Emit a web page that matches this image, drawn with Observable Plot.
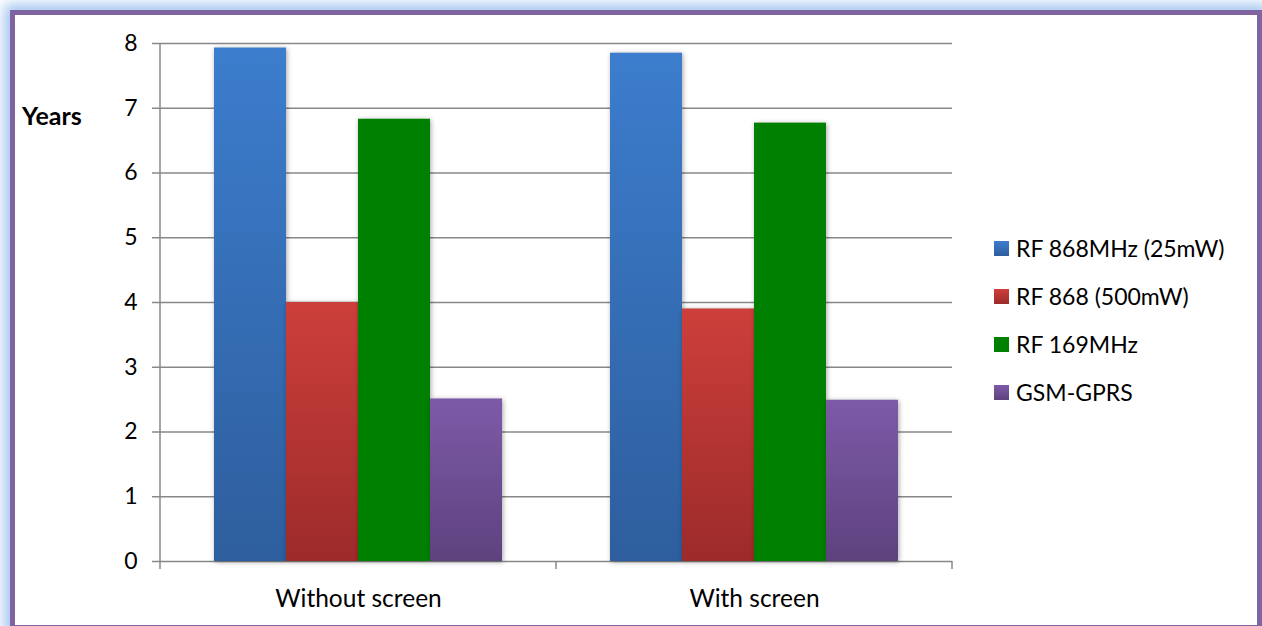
<!DOCTYPE html>
<html>
<head>
<meta charset="utf-8">
<script src="https://cdn.jsdelivr.net/npm/d3@7"></script>
<script src="https://cdn.jsdelivr.net/npm/@observablehq/plot@0.6"></script>
<style>
  html, body { margin: 0; padding: 0; width: 1262px; height: 626px; overflow: hidden; background: #ffffff; }
  #frame {
    position: absolute; left: 10px; top: 10px; width: 1242px; height: 610px;
    border: 5px solid #8064A2; background: #ffffff;
    box-shadow: 0 0 12px 6px #a6c7f0;
  }
  #chart { position: absolute; left: 0; top: 0; }
  #ylabel {
    position: absolute; left: 7px; top: 85px; line-height: 30px;
    font-family: Lato, sans-serif; font-weight: bold; font-size: 25px; color: #000;
  }
  #legend { position: absolute; left: 979px; top: 209px; font-family: Lato, sans-serif; font-size: 23px; color: #000; }
  .item { height: 48px; display: flex; align-items: center; }
  .sw { width: 15px; height: 15px; margin-right: 7px; }
  g[aria-label="bar"] rect { filter: drop-shadow(1px 1px 2.5px rgba(0,0,0,0.35)); }
</style>
</head>
<body>
<div id="frame">
  <div id="chart"></div>
  <div id="ylabel">Years</div>
  <div id="legend"></div>
</div>
<script>
// ---- data ----
const groups = ["Without screen", "With screen"];
const series = ["RF 868MHz (25mW)", "RF 868 (500mW)", "RF 169MHz", "GSM-GPRS"];
const valuesWithout = [7.93, 4.0, 6.83, 2.51];
const valuesWith = [7.85, 3.9, 6.77, 2.49];
const yTicks = [0, 1, 2, 3, 4, 5, 6, 7, 8];

// colours (top, bottom of each bar gradient)
const topColors = ["#3c7dcd", "#cd3f3b", "#008000", "#7d5aa8"];
const bottomColors = ["#2e5e9d", "#9c2b2a", "#008000", "#5e427e"];
const gradIds = series.map((s, i) => "grad" + i);

const data = groups.flatMap((g, gi) =>
  series.map((s, si) => ({group: g, series: s, value: (gi === 0 ? valuesWithout : valuesWith)[si]}))
);

const defsMark = () => {
  const defs = d3.create("svg:defs");
  gradIds.forEach((id, i) => {
    const lg = defs.append("linearGradient").attr("id", id).attr("x1", 0).attr("y1", 0).attr("x2", 0).attr("y2", 1);
    lg.append("stop").attr("offset", "0%").attr("stop-color", topColors[i]);
    lg.append("stop").attr("offset", "100%").attr("stop-color", bottomColors[i]);
  });
  return defs.node();
};

const chart = Plot.plot({
  width: 1242,
  height: 610,
  marginLeft: 145,
  marginRight: 305,
  marginTop: 28,
  marginBottom: 64,
  style: {fontFamily: "Lato, sans-serif", fontSize: "23px", color: "#000", background: "transparent", overflow: "visible"},
  fx: {domain: groups, padding: 0, label: null},
  x: {domain: series, paddingInner: 0, paddingOuter: 0.74, axis: null},
  y: {domain: [0, 8], label: null},
  color: {domain: series, range: gradIds.map(id => `url(#${id})`)},
  marks: [
    defsMark,
    Plot.gridY(yTicks, {stroke: "#888888", strokeOpacity: 1, strokeWidth: 1.5}),
    Plot.axisY(yTicks, {tickSize: 8, tickPadding: 15, tickFormat: d => String(d), stroke: "#888888", strokeWidth: 1.5, fill: "#000", fontSize: 23, label: null}),
    Plot.axisFx({anchor: "bottom", tickSize: 0, tickPadding: 28, fontSize: 24.5, fill: "#000", label: null}),
    Plot.barY(data, {fx: "group", x: "series", y: "value", fill: "series"})
  ]
});

// axis line and category boundary ticks, positioned by the chart's own scales
const fxS = chart.scale("fx");
const yS = chart.scale("y");
const y0 = yS.apply(0), yTop = yS.apply(8);
const bounds = groups.map(g => fxS.apply(g)).concat([fxS.apply(groups[groups.length - 1]) + fxS.bandwidth]);
const ax = d3.select(chart).append("g").attr("stroke", "#888888").attr("stroke-width", 1.5).attr("fill", "none");
ax.append("line").attr("x1", bounds[0]).attr("x2", bounds[0]).attr("y1", yTop).attr("y2", y0);
bounds.forEach(b => ax.append("line").attr("x1", b).attr("x2", b).attr("y1", y0).attr("y2", y0 + 8));

document.getElementById("chart").appendChild(chart);

// legend
const legend = d3.select("#legend");
series.forEach((s, i) => {
  const item = legend.append("div").attr("class", "item");
  item.append("div").attr("class", "sw").style("background", `linear-gradient(${topColors[i]}, ${bottomColors[i]})`);
  item.append("span").text(s);
});
</script>
</body>
</html>
